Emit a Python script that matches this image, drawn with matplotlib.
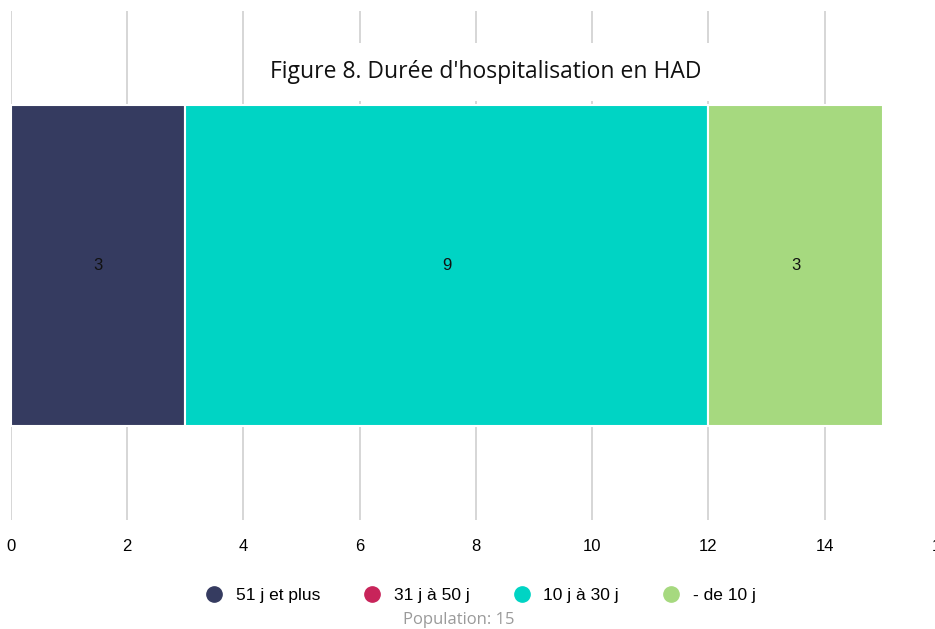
import matplotlib
matplotlib.use("Agg")
import matplotlib.pyplot as plt
from matplotlib.lines import Line2D

categories = ["51 j et plus", "31 j à 50 j", "10 j à 30 j", "- de 10 j"]
values = [3, 0, 9, 3]
colors = ["#353b60", "#c8245a", "#00d4c4", "#a6d97f"]
xticks = [0, 2, 4, 6, 8, 10, 12, 14, 16]
title = "Figure 8. Durée d'hospitalisation en HAD"
population = "Population: 15"

fig = plt.figure(figsize=(9.35, 6.29), dpi=100)
ax = fig.add_axes([11/935, 109/629, 930/935, 509/629])

left = 0
for cat, v, c in zip(categories, values, colors):
    if v > 0:
        ax.barh(0, v, left=left, height=0.63, color=c, edgecolor="white",
                linewidth=1.5, zorder=3)
        ax.text(left + v/2, 0, str(v), ha="center", va="center",
                fontsize=12, family="Liberation Sans", color="#111111", zorder=4)
    left += v

ax.set_xlim(0, 16)
ax.set_ylim(-0.5, 0.5)
ax.set_xticks(xticks)
ax.set_yticks([])
ax.grid(axis="x", color="#d0d0d0", linewidth=1.2, zorder=0)
ax.set_axisbelow(True)
for s in ax.spines.values():
    s.set_visible(False)
ax.tick_params(axis="x", length=0, pad=14)
for lab in ax.get_xticklabels():
    lab.set_family("Liberation Sans")
    lab.set_fontsize(12)

ax.text((486 - 11) / 930, (629 - 72 - 109) / 509, title, transform=ax.transAxes,
        ha="center", va="center", fontsize=16.5, family="Open Sans",
        color="#111111", zorder=2,
        bbox=dict(boxstyle="square,pad=0.75", fc="white", ec="none"))

handles = [Line2D([], [], marker="o", linestyle="none", markersize=11,
                  markerfacecolor=c, markeredgecolor=c) for c in colors]
leg = fig.legend(handles, categories, loc="center", ncol=4,
                 bbox_to_anchor=(0.513, 1 - 595/629), frameon=False,
                 prop={"family": "Liberation Sans", "size": 12.5},
                 handletextpad=0.65, columnspacing=2.4, handlelength=1.2)

fig.text(0.491, 1 - 620/629, population, ha="center", va="center",
         fontsize=12, family="Open Sans", color="#9a9a9a")

fig.savefig("out.png", dpi=100)
